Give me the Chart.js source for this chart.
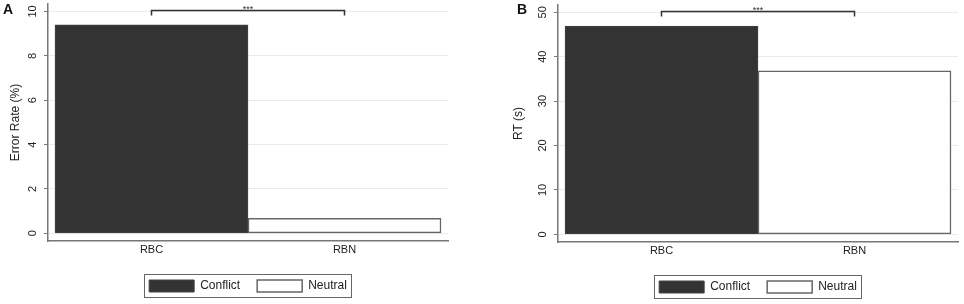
<!DOCTYPE html>
<html>
<head>
<meta charset="utf-8">
<script src="https://cdn.jsdelivr.net/npm/chart.js@4.4.1/dist/chart.umd.min.js"></script>
<style>
  body { margin: 0; background: #fff; }
  #wrap { position: relative; width: 964px; height: 304px; overflow: hidden; }
  canvas { position: absolute; top: 0; }
</style>
</head>
<body>
<div id="wrap">
  <canvas id="chartA" width="456" height="304" style="left:0"></canvas>
  <canvas id="chartB" width="454" height="304" style="left:510px"></canvas>
</div>
<script>
const categories = ['RBC', 'RBN'];
const seriesNames = ['Conflict', 'Neutral'];
const errorRate = [9.4, 0.67];
const rtSeconds = [46.9, 36.8];
const errorTicks = [0, 2, 4, 6, 8, 10];
const rtTicks = [0, 10, 20, 30, 40, 50];

const FONT = "'Liberation Sans', Arial, Helvetica, sans-serif";

// panel letter + significance bracket between the two bars
const panelMarks = {
  id: 'panelMarks',
  afterDraw(chart, args, opts) {
    const ctx = chart.ctx;
    const xs = chart.scales.x;
    const top = chart.chartArea.top;
    ctx.save();
    ctx.fillStyle = '#111';
    ctx.font = 'bold 14px ' + FONT;
    ctx.textBaseline = 'alphabetic';
    ctx.fillText(opts.letter, opts.letterX, 14);

    const x0 = xs.getPixelForValue(0), x1 = xs.getPixelForValue(1);
    const y = top + 6.5;
    ctx.strokeStyle = '#333';
    ctx.lineWidth = 1.5;
    ctx.beginPath();
    ctx.moveTo(x0, y + 5);
    ctx.lineTo(x0, y);
    ctx.lineTo(x1, y);
    ctx.lineTo(x1, y + 5);
    ctx.stroke();
    ctx.fillStyle = '#333';
    ctx.font = '9px ' + FONT;
    ctx.textAlign = 'center';
    ctx.fillText('***', (x0 + x1) / 2, y + 1.5);
    ctx.restore();
  }
};

// Chart.js has no legend frame, draw one around the items
const legendFrame = {
  id: 'legendFrame',
  afterDraw(chart) {
    const boxes = chart.legend && chart.legend.legendHitBoxes;
    if (!boxes || !boxes.length) return;
    const last = boxes[boxes.length - 1];
    const l = Math.round(boxes[0].left - 5);
    const r = Math.round(last.left + last.width + 4);
    const t = Math.round(boxes[0].top - 6);
    const b = Math.round(boxes[0].top + boxes[0].height + 5);
    const ctx = chart.ctx;
    ctx.save();
    ctx.strokeStyle = '#666';
    ctx.lineWidth = 1;
    ctx.strokeRect(l + 0.5, t + 0.5, r - l, b - t);
    ctx.restore();
  }
};

function makeChart(id, values, yTicks, yMin, yMax, yTitle, o) {
  return new Chart(document.getElementById(id), {
    type: 'bar',
    data: {
      datasets: [{
        label: seriesNames[0],
        data: [{ x: 0, y: values[0] }],
        backgroundColor: '#333333',
        borderColor: '#444444',
        borderWidth: 1,
        borderSkipped: false
      }, {
        label: seriesNames[1],
        data: [{ x: 1, y: values[1] }],
        backgroundColor: '#ffffff',
        borderColor: '#666666',
        borderWidth: 1.5,
        borderSkipped: false
      }]
    },
    options: {
      responsive: false,
      animation: false,
      devicePixelRatio: 1,
      layout: { padding: o.padding },
      datasets: { bar: { grouped: false, barPercentage: 1, categoryPercentage: 1 } },
      scales: {
        x: {
          type: 'linear',
          offset: false,
          min: -0.5363,
          max: 1.5363,
          afterBuildTicks: s => { s.ticks = categories.map((c, i) => ({ value: i })); },
          afterFit: s => { s.height = o.xHeight; s.paddingLeft = 0; s.paddingRight = 0; },
          ticks: {
            callback: v => categories[v],
            font: { family: FONT, size: 11 },
            color: '#222',
            padding: 2,
            autoSkip: false,
            maxRotation: 0
          },
          grid: { display: false, drawTicks: false, offset: false },
          border: { color: '#777', width: 1.5 }
        },
        y: {
          min: yMin,
          max: yMax,
          afterBuildTicks: s => { s.ticks = yTicks.map(v => ({ value: v })); },
          afterFit: s => { s.width = 48; s.paddingTop = 0; s.paddingBottom = 0; },
          ticks: {
            font: { family: FONT, size: 11 },
            color: '#222',
            minRotation: 90,
            maxRotation: 90,
            crossAlign: 'center',
            padding: 5
          },
          grid: { color: '#ebebeb', tickLength: 4, tickColor: '#777', tickWidth: 1 },
          border: { color: '#777', width: 1.5 },
          title: {
            display: true,
            text: yTitle,
            font: { family: FONT, size: 12 },
            color: '#222',
            padding: { top: o.titlePad, bottom: 0 }
          }
        }
      },
      plugins: {
        legend: {
          position: 'bottom',
          fullSize: false,
          labels: {
            boxWidth: 45,
            boxHeight: 12,
            padding: 17,
            font: { family: FONT, size: 12 },
            color: '#222'
          }
        },
        tooltip: { enabled: false },
        panelMarks: { letter: o.letter, letterX: o.letterX }
      }
    },
    plugins: [panelMarks, legendFrame]
  });
}

makeChart('chartA', errorRate, errorTicks, -0.347, 10.338, 'Error Rate (%)',
  { padding: { top: 4, right: 8, bottom: 2, left: 0 }, xHeight: 22, titlePad: 8, letter: 'A', letterX: 3 });
makeChart('chartB', rtSeconds, rtTicks, -1.73, 51.64, 'RT (s)',
  { padding: { top: 5, right: 6, bottom: 1, left: 0 }, xHeight: 22, titlePad: 1, letter: 'B', letterX: 7 });
</script>
</body>
</html>
